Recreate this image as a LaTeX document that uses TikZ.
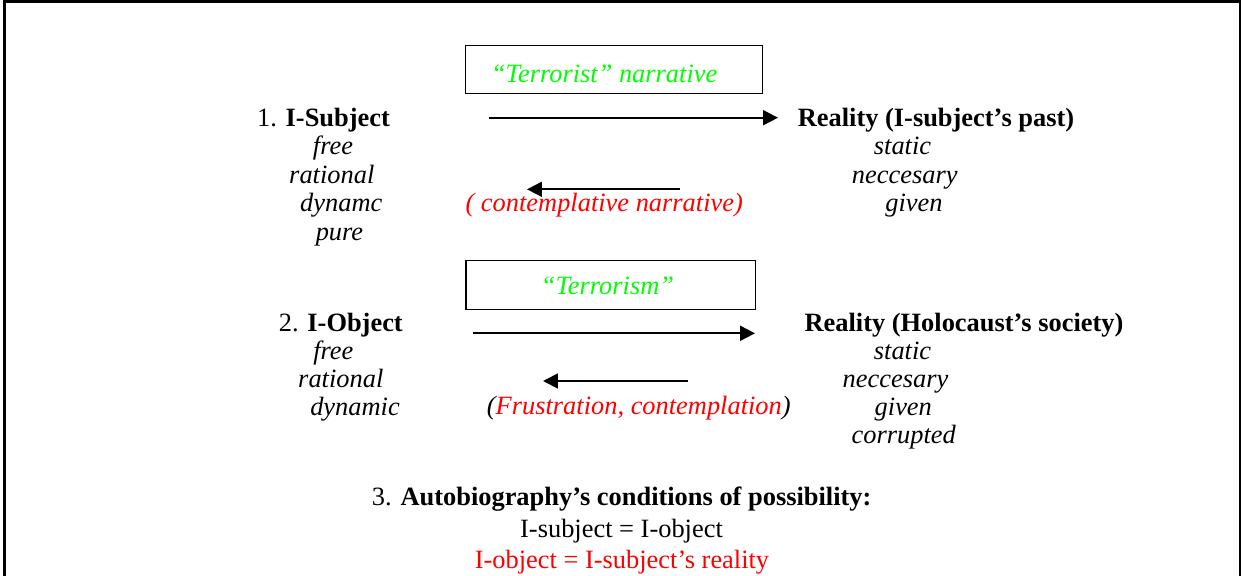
\documentclass[tikz,border=0pt]{standalone}
\usepackage{fontspec}
\setmainfont{Liberation Serif}
\usetikzlibrary{arrows.meta}
\definecolor{tgreen}{RGB}{0,255,0}
\definecolor{tred}{RGB}{255,0,0}
\begin{document}
\begin{tikzpicture}[x=0.4808pt,y=-0.4808pt,
  every node/.style={inner sep=0pt, outer sep=0pt, font=\fontsize{12.7}{15}\selectfont},
  txt/.style={anchor=base},
  itl/.style={anchor=base, font=\fontsize{12.7}{15}\selectfont\itshape},
  frameline/.style={line width=1.2pt},
  arr/.style={line width=0.9pt, -{Triangle[length=7.2pt,width=7.2pt]}},
  labelbox/.style={draw, line width=0.7pt}
]
\useasboundingbox (0,0) rectangle (1243,576);
% frame (open at the bottom)
\coordinate (fbl) at (4.5,576);
\coordinate (ftl) at (4.5,1.5);
\coordinate (ftr) at (1240,1.5);
\coordinate (fbr) at (1240,576);
\draw[frameline] (fbl) -- (ftl) -- (ftr) -- (fbr);

% ---- row 1
\node[labelbox, minimum width=142.8pt, minimum height=23.1pt] (box1) at (614.2,69.5) {};
\node[itl, text=tgreen] (t1) at (604.2,82) {“Terrorist” narrative};
\node[txt] (s1) at (323.5,126) {1. \textbf{I-Subject}};
\node[itl] (s1a) at (333,154.5) {free};
\node[itl] (s1b) at (331.8,183) {rational};
\node[itl] (s1c) at (341.3,211.5) {dynamc};
\node[itl] (s1d) at (339.5,240) {pure};
\node[txt] (r1) at (936,126) {\textbf{Reality (I-subject’s past)}};
\node[itl] (r1a) at (902.5,154.5) {static};
\node[itl] (r1b) at (904.7,183) {neccesary};
\node[itl] (r1c) at (914,211.5) {given};
\coordinate (a1s) at (489,117.7);
\coordinate (a1e) at (778,117.7);
\draw[arr] (a1s) -- (a1e);
\coordinate (a2s) at (680,189.3);
\coordinate (a2e) at (527,189.3);
\draw[arr] (a2s) -- (a2e);
\node[itl, text=tred] (c1) at (604.2,211.5) {( contemplative narrative)};

% ---- row 2
\node[labelbox, minimum width=139.3pt, minimum height=23.4pt] (box2) at (610.8,285) {};
\node[itl, text=tgreen] (t2) at (607.5,294) {“Terrorism”};
\node[txt] (s2) at (340.8,331) {2. \textbf{I-Object}};
\node[itl] (s2a) at (333.3,359.5) {free};
\node[itl] (s2b) at (340.8,387) {rational};
\node[itl] (s2c) at (355,415) {dynamic};
\node[txt] (r2) at (964,331) {\textbf{Reality (Holocaust’s society)}};
\node[itl] (r2a) at (902.5,359.5) {static};
\node[itl] (r2b) at (895.5,387) {neccesary};
\node[itl] (r2c) at (903.3,415) {given};
\node[itl] (r2d) at (903.7,443) {corrupted};
\coordinate (a3s) at (473,333.3);
\coordinate (a3e) at (755,333.3);
\draw[arr] (a3s) -- (a3e);
\coordinate (a4s) at (687.7,381);
\coordinate (a4e) at (543,381);
\draw[arr] (a4s) -- (a4e);
\node[itl] (c2) at (638.8,414.5) {(\textcolor{tred}{Frustration, contemplation})};

% ---- row 3
\node[txt] (h3) at (621.7,505) {3. \textbf{Autobiography’s conditions of possibility:}};
\node[txt] (e1) at (621.5,537) {I-subject = I-object};
\node[txt, text=tred] (e2) at (622,568) {I-object = I-subject’s reality};
\end{tikzpicture}
\end{document}
